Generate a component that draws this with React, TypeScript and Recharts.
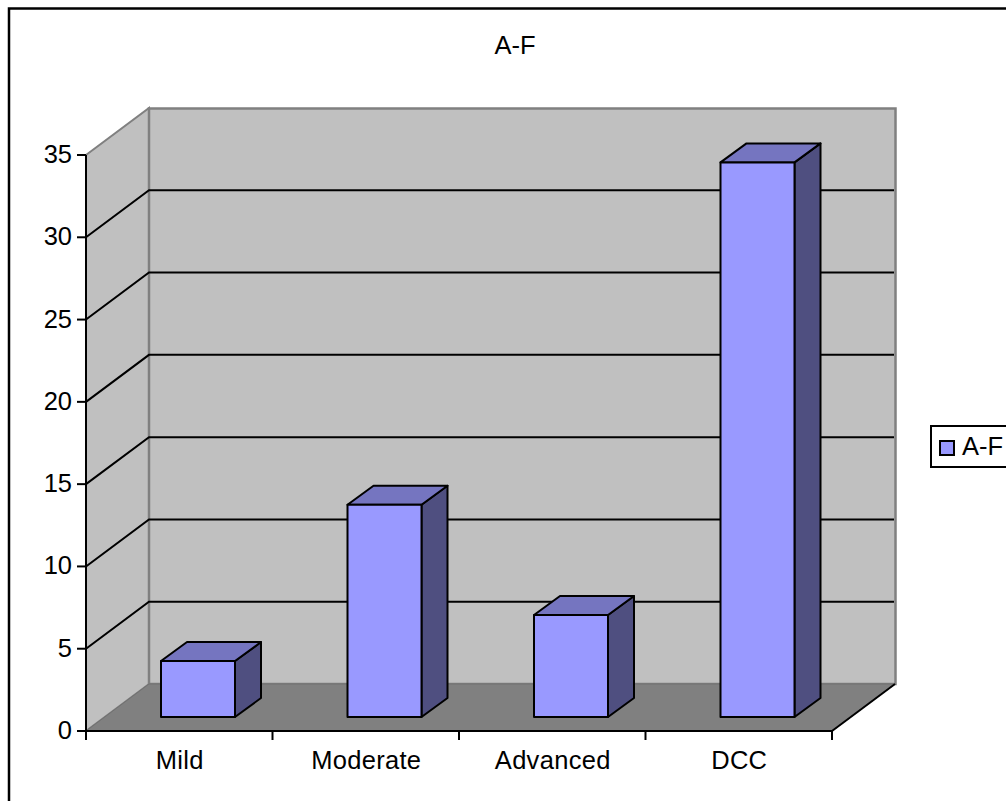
import { BarChart, Bar, XAxis, YAxis, CartesianGrid, Legend } from 'recharts';

const categories = ['Mild', 'Moderate', 'Advanced', 'DCC'];
const seriesValues = [3.4, 12.9, 6.2, 33.7];
const yTicks = [0, 5, 10, 15, 20, 25, 30, 35];
const seriesName = 'A-F';
const chartTitle = 'A-F';

const chartData = categories.map((name, i) => ({ name, value: seriesValues[i] }));

const FONT = '"Liberation Sans", Arial, sans-serif';
const FONT_SIZE = 25.5;

// plot rectangle of the front plane
const LEFT = 86;
const TOP = 155;
const RIGHT = 832;
const BOTTOM = 731;
const BAND = (RIGHT - LEFT) / categories.length;

// 3D look: how far the back wall sits from the front plane
const DEPTH_X = 63;
const DEPTH_Y = -47;
// cubes stand in the middle of the floor
const BAR_DX = 19;
const BAR_DY = -14;
const BAR_DEPTH_X = 26;
const BAR_DEPTH_Y = -19;

const pts = (list: number[][]) => list.map((p) => p.join(',')).join(' ');

// frame, title, walls and floor, in their own svg underneath the chart
const Backdrop = () => {
  const bx = LEFT + DEPTH_X;
  const by = TOP + DEPTH_Y;
  const bb = BOTTOM + DEPTH_Y;
  const br = RIGHT + DEPTH_X;
  return (
    <svg width={1006} height={801} style={{ position: 'absolute', left: 0, top: 0 }}>
      <rect x={9} y={8.5} width={1200} height={1000} fill="none" stroke="#000" strokeWidth={2.5} />
      <text x={515} y={54} textAnchor="middle" fontFamily={FONT} fontSize={FONT_SIZE} fill="#000">
        {chartTitle}
      </text>
      <polygon points={pts([[LEFT, TOP], [bx, by], [bx, bb], [LEFT, BOTTOM]])} fill="#c0c0c0" stroke="#808080" strokeWidth={2} />
      <polygon points={pts([[bx, by + 0.5], [br + 0.5, by + 0.5], [br + 0.5, bb], [bx, bb]])} fill="#c0c0c0" stroke="#808080" strokeWidth={2.5} />
      <polygon points={pts([[LEFT, BOTTOM], [RIGHT, BOTTOM], [br, bb], [bx, bb]])} fill="#808080" stroke="#707070" strokeWidth={1} />
      <line x1={RIGHT} y1={BOTTOM} x2={br} y2={bb} stroke="#000" strokeWidth={2} />
    </svg>
  );
};

// gridline that runs up the side wall and then across the back wall
const GridLine = ({ x1, x2, y1 }: any) => {
  if (y1 <= TOP + 1 || y1 >= BOTTOM - 1) return <g />;
  const backY = y1 + DEPTH_Y;
  return (
    <polyline
      points={pts([[x1, y1], [x1 + DEPTH_X, backY], [x2 + DEPTH_X - 1, backY]])}
      fill="none"
      stroke="#000"
      strokeWidth={2}
    />
  );
};

const CubeBar = ({ x, y, width, height, fill }: any) => {
  const left = x + BAR_DX;
  const right = left + width;
  const top = y + BAR_DY;
  const bottom = top + height;
  return (
    <g stroke="#000" strokeWidth={2} strokeLinejoin="round">
      <polygon
        points={pts([[right, top], [right + BAR_DEPTH_X, top + BAR_DEPTH_Y], [right + BAR_DEPTH_X, bottom + BAR_DEPTH_Y], [right, bottom]])}
        fill="#4f4f80"
      />
      <polygon
        points={pts([[left, top], [left + BAR_DEPTH_X, top + BAR_DEPTH_Y], [right + BAR_DEPTH_X, top + BAR_DEPTH_Y], [right, top]])}
        fill="#7575c0"
      />
      <rect x={left} y={top} width={width} height={height} fill={fill} />
    </g>
  );
};

// tick marks sit between the categories, labels in the middle of each band
const CategoryTick = ({ x, y, payload, index }: any) => {
  const start = x - BAND / 2;
  return (
    <g>
      <line x1={start} y1={BOTTOM} x2={start} y2={BOTTOM + 9} stroke="#000" strokeWidth={2} />
      {index === categories.length - 1 && (
        <line x1={start + BAND} y1={BOTTOM} x2={start + BAND} y2={BOTTOM + 9} stroke="#000" strokeWidth={2} />
      )}
      <text x={x + 0.5} y={y + 30} textAnchor="middle" fontFamily={FONT} fontSize={FONT_SIZE} letterSpacing={0.3} fill="#000">
        {payload.value}
      </text>
    </g>
  );
};

const LegendBox = ({ payload }: any) => (
  <div
    style={{
      position: 'absolute',
      left: 0,
      top: 0,
      width: 120,
      height: 43,
      boxSizing: 'border-box',
      border: '2px solid #000',
      background: '#fff',
      fontFamily: FONT,
      fontSize: FONT_SIZE,
      color: '#000',
    }}
  >
    {(payload || []).map((item: any) => (
      <div key={item.value} style={{ position: 'absolute', left: 7, top: 0, lineHeight: '38px', whiteSpace: 'nowrap' }}>
        <span
          style={{
            position: 'absolute',
            left: 0,
            top: 13,
            width: 16,
            height: 16,
            boxSizing: 'border-box',
            border: '2px solid #000',
            background: item.color,
          }}
        />
        <span style={{ marginLeft: 23 }}>{item.value}</span>
      </div>
    ))}
  </div>
);

const App = () => {
  return (
    <div style={{ position: 'fixed', left: 0, top: 0, width: 1006, height: 801, overflow: 'hidden', background: '#fff' }}>
      <Backdrop />
      <BarChart
        width={1006}
        height={801}
        data={chartData}
        margin={{ top: TOP, right: 1006 - RIGHT, bottom: 30, left: 16 }}
      >
        <CartesianGrid vertical={false} horizontal={GridLine} />
        <XAxis
          dataKey="name"
          height={40}
          interval={0}
          axisLine={{ stroke: '#000', strokeWidth: 2 }}
          tickLine={false}
          tick={CategoryTick}
        />
        <YAxis
          width={70}
          domain={[0, 35]}
          ticks={yTicks}
          interval={0}
          tickSize={9}
          tickMargin={5}
          axisLine={{ stroke: '#000', strokeWidth: 2 }}
          tickLine={{ stroke: '#000', strokeWidth: 2 }}
          tick={{ fill: '#000', fontFamily: FONT, fontSize: FONT_SIZE, dy: -1 }}
        />
        <Legend
          layout="vertical"
          align="center"
          verticalAlign="middle"
          content={LegendBox}
          wrapperStyle={{ left: 930, top: 425, width: 120, height: 43 }}
        />
        <Bar
          dataKey="value"
          name={seriesName}
          fill="#9999ff"
          barSize={74}
          shape={CubeBar}
          isAnimationActive={false}
        />
      </BarChart>
    </div>
  );
};

export default App;
